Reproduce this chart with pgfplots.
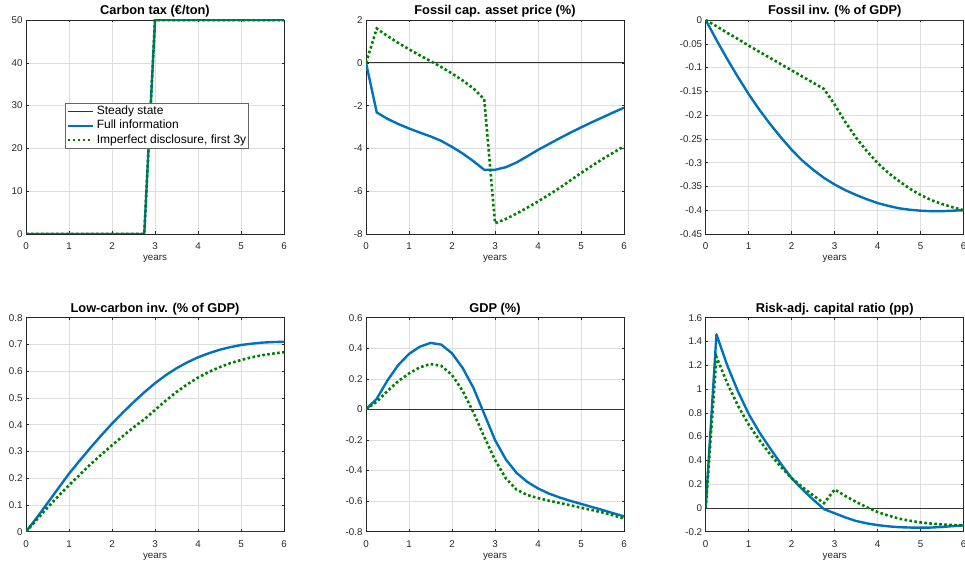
\documentclass[border=0pt]{standalone}
\usepackage{fontspec}
\setmainfont{Liberation Sans}
\usepackage{pgfplots}
\usepackage{pgfplotstable}
\pgfplotsset{compat=1.18}
\definecolor{mblue}{rgb}{0,0.447,0.741}
\definecolor{mgreen}{rgb}{0,0.5,0}
\definecolor{axgray}{rgb}{0.15,0.15,0.15}

\pgfplotstableread{
t full imp
0 0 0
0.25 0 0
0.5 0 0
0.75 0 0
1 0 0
1.25 0 0
1.5 0 0
1.75 0 0
2 0 0
2.25 0 0
2.5 0 0
2.75 0 0
3 50 50
3.25 50 50
3.5 50 50
3.75 50 50
4 50 50
4.25 50 50
4.5 50 50
4.75 50 50
5 50 50
5.25 50 50
5.5 50 50
5.75 50 50
6 50 50
}\taxdata

\pgfplotstableread{
t full imp
0 0 0
0.25 -2.32 1.60
0.5 -2.62 1.25
0.75 -2.86 0.93
1 -3.07 0.63
1.25 -3.26 0.35
1.5 -3.44 0.08
1.75 -3.65 -0.20
2 -3.93 -0.50
2.25 -4.24 -0.83
2.5 -4.60 -1.20
2.75 -5.00 -1.70
3 -5.00 -7.50
3.25 -4.88 -7.30
3.5 -4.66 -7.05
3.75 -4.37 -6.77
4 -4.07 -6.48
4.25 -3.80 -6.17
4.5 -3.53 -5.85
4.75 -3.27 -5.50
5 -3.02 -5.15
5.25 -2.78 -4.82
5.5 -2.55 -4.50
5.75 -2.32 -4.20
6 -2.10 -3.90
}\pricedata

\pgfplotstableread{
t full imp
0 0 0
0.25 -0.042 -0.013
0.5 -0.082 -0.027
0.75 -0.120 -0.040
1 -0.156 -0.054
1.25 -0.189 -0.067
1.5 -0.219 -0.080
1.75 -0.247 -0.093
2 -0.273 -0.106
2.25 -0.296 -0.119
2.5 -0.315 -0.132
2.75 -0.332 -0.145
3 -0.346 -0.178
3.25 -0.358 -0.215
3.5 -0.368 -0.248
3.75 -0.377 -0.276
4 -0.385 -0.301
4.25 -0.391 -0.322
4.5 -0.396 -0.339
4.75 -0.399 -0.355
5 -0.401 -0.368
5.25 -0.402 -0.379
5.5 -0.402 -0.387
5.75 -0.401 -0.394
6 -0.400 -0.400
}\fossildata

\pgfplotstableread{
t full imp
0 0 0
0.25 0.052 0.045
0.5 0.107 0.090
0.75 0.162 0.133
1 0.217 0.174
1.25 0.266 0.213
1.5 0.314 0.252
1.75 0.360 0.288
2 0.404 0.323
2.25 0.445 0.357
2.5 0.484 0.390
2.75 0.521 0.420
3 0.555 0.455
3.25 0.585 0.490
3.5 0.611 0.522
3.75 0.633 0.551
4 0.652 0.576
4.25 0.667 0.597
4.5 0.680 0.615
4.75 0.690 0.630
5 0.698 0.642
5.25 0.703 0.652
5.5 0.707 0.660
5.75 0.709 0.666
6 0.710 0.671
}\lowdata

\pgfplotstableread{
t full imp
0 0 0
0.25 0.07 0.05
0.5 0.19 0.12
0.75 0.29 0.185
1 0.363 0.235
1.25 0.41 0.275
1.5 0.435 0.297
1.75 0.424 0.285
2 0.367 0.225
2.25 0.27 0.12
2.5 0.14 -0.02
2.75 -0.03 -0.18
3 -0.20 -0.33
3.25 -0.326 -0.45
3.5 -0.415 -0.525
3.75 -0.474 -0.56
4 -0.517 -0.58
4.25 -0.55 -0.597
4.5 -0.576 -0.612
4.75 -0.598 -0.627
5 -0.618 -0.643
5.25 -0.638 -0.658
5.5 -0.658 -0.674
5.75 -0.679 -0.693
6 -0.70 -0.713
}\gdpdata

\pgfplotstableread{
t full imp
0 0 0
0.25 1.46 1.27
0.5 1.20 1.05
0.75 0.98 0.86
1 0.79 0.70
1.25 0.635 0.57
1.5 0.50 0.45
1.75 0.37 0.345
2 0.25 0.25
2.25 0.155 0.175
2.5 0.07 0.105
2.75 -0.01 0.04
3 -0.045 0.155
3.25 -0.08 0.10
3.5 -0.11 0.05
3.75 -0.13 0.005
4 -0.145 -0.035
4.25 -0.155 -0.065
4.5 -0.162 -0.09
4.75 -0.165 -0.108
5 -0.166 -0.122
5.25 -0.165 -0.132
5.5 -0.16 -0.139
5.75 -0.153 -0.144
6 -0.147 -0.147
}\capdata

\pgfplotsset{
  panel/.style={
    scale only axis, width=258pt, height=214pt,
    anchor=south west,
    xmin=0, xmax=6, xtick={0,1,2,3,4,5,6},
    xticklabels={0,1,2,3,4,5,6},
    grid=major, major grid style={color=black!13, line width=0.5pt},
    axis line style={color=axgray, line width=0.5pt},
    tick style={color=axgray, line width=0.5pt},
    tick align=inside, major tick length=2.5pt,
    ticklabel style={font=\fontsize{9.8}{11}\selectfont, color=axgray},
    xticklabel style={yshift=-5.4pt},
    xlabel={years},
    every axis x label/.style={at={(axis description cs:0.5,0)}, anchor=base, yshift=-27pt,
      font=\fontsize{9.8}{11}\selectfont, color=axgray},
    every axis title/.style={at={(axis description cs:0.5,1)}, anchor=base, yshift=5pt,
      font=\bfseries\fontsize{12.8}{15}\selectfont, color=black},
  },
  ss/.style={color=black!80, line width=0.7pt},
  fullinfo/.style={color=mblue, line width=2.4pt, line join=round},
  imperf/.style={color=mgreen, line width=2.6pt, line cap=butt, dash pattern=on 2.6pt off 2.4pt},
}

\begin{document}
\begin{tikzpicture}
\path[use as bounding box] (0,0) rectangle (965pt,565pt);

% Carbon tax
\begin{axis}[panel, at={(26pt,331pt)}, ymin=0, ymax=50, ytick={0,10,20,30,40,50},
  yticklabels={0,10,20,30,40,50},
  title={Carbon tax (€/ton)},
  legend cell align=left,
  legend image code/.code={\draw[#1] (0pt,0pt) -- (25pt,0pt);},
  legend style={at={(0.151,0.612)}, anchor=north west, draw=black!60, fill=white,
    line width=0.5pt, font=\fontsize{12}{14}\selectfont, inner sep=1pt,
    row sep=0pt, column sep=1.5pt,
    nodes={inner sep=1.5pt, text height=8.7pt, text depth=2.6pt}}]
\addplot[ss] coordinates {(0,0) (6,0)};
\addplot[fullinfo] table[x=t, y=full] {\taxdata};
\addplot[imperf] table[x=t, y=imp] {\taxdata};
\legend{Steady state, Full information, {Imperfect disclosure, first 3y}}
\end{axis}

% Fossil cap asset price
\begin{axis}[panel, at={(366pt,331pt)}, ymin=-8, ymax=2, ytick={-8,-6,-4,-2,0,2},
  yticklabels={-8,-6,-4,-2,0,2},
  title={Fossil cap. asset price (\%)}]
\addplot[ss] coordinates {(0,0) (6,0)};
\addplot[fullinfo] table[x=t, y=full] {\pricedata};
\addplot[imperf] table[x=t, y=imp] {\pricedata};
\end{axis}

% Fossil inv
\begin{axis}[panel, at={(705.7pt,331pt)}, ymin=-0.45, ymax=0,
  ytick={-0.45,-0.4,-0.35,-0.3,-0.25,-0.2,-0.15,-0.1,-0.05,0},
  yticklabels={-0.45,-0.4,-0.35,-0.3,-0.25,-0.2,-0.15,-0.1,-0.05,0},
  title={Fossil inv. (\% of GDP)}]
\addplot[ss] coordinates {(0,0) (6,0)};
\addplot[fullinfo] table[x=t, y=full] {\fossildata};
\addplot[imperf] table[x=t, y=imp] {\fossildata};
\end{axis}

% Low-carbon inv
\begin{axis}[panel, at={(26pt,33.3pt)}, ymin=0, ymax=0.8,
  ytick={0,0.1,0.2,0.3,0.4,0.5,0.6,0.7,0.8},
  yticklabels={0,0.1,0.2,0.3,0.4,0.5,0.6,0.7,0.8},
  title={Low-carbon inv. (\% of GDP)}]
\addplot[ss] coordinates {(0,0) (6,0)};
\addplot[fullinfo] table[x=t, y=full] {\lowdata};
\addplot[imperf] table[x=t, y=imp] {\lowdata};
\end{axis}

% GDP
\begin{axis}[panel, at={(366pt,33.3pt)}, ymin=-0.8, ymax=0.6,
  ytick={-0.8,-0.6,-0.4,-0.2,0,0.2,0.4,0.6},
  yticklabels={-0.8,-0.6,-0.4,-0.2,0,0.2,0.4,0.6},
  title={GDP (\%)}]
\addplot[ss] coordinates {(0,0) (6,0)};
\addplot[fullinfo] table[x=t, y=full] {\gdpdata};
\addplot[imperf] table[x=t, y=imp] {\gdpdata};
\end{axis}

% Risk-adj capital ratio
\begin{axis}[panel, at={(705.7pt,33.3pt)}, ymin=-0.2, ymax=1.6,
  ytick={-0.2,0,0.2,0.4,0.6,0.8,1,1.2,1.4,1.6},
  yticklabels={-0.2,0,0.2,0.4,0.6,0.8,1,1.2,1.4,1.6},
  title={Risk-adj. capital ratio (pp)}]
\addplot[ss] coordinates {(0,0) (6,0)};
\addplot[fullinfo] table[x=t, y=full] {\capdata};
\addplot[imperf] table[x=t, y=imp] {\capdata};
\end{axis}

\end{tikzpicture}
\end{document}
